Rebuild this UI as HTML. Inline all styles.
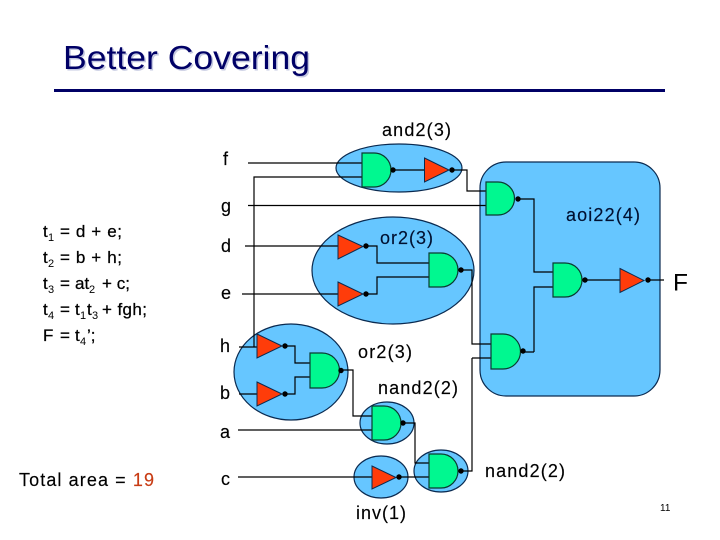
<!DOCTYPE html>
<html><head><meta charset="utf-8"><style>
html,body{margin:0;padding:0;background:#fff}
svg{display:block}
text{font-family:"Liberation Sans",sans-serif;fill:#000}
.l{font-size:18px;stroke:#000;stroke-width:.15}
.e{font-size:17px;stroke:#000;stroke-width:.25}
.s{font-size:11px}
.w{fill:none;stroke:#000;stroke-width:1.2}
.b{fill:#66c6ff;stroke:#0a2a50;stroke-width:1.2}
.g{fill:#00f890;stroke:#0a3a30;stroke-width:1.2}
.t{fill:#ff3c0a;stroke:#0a2a50;stroke-width:1}
.d{fill:#000}
</style></head><body>
<svg width="720" height="540" viewBox="0 0 720 540" xmlns="http://www.w3.org/2000/svg">
<rect width="720" height="540" fill="#fff"/>
<text x="64.500" y="70.500" font-size="33" style="fill:#c4c8e0" textLength="247" lengthAdjust="spacingAndGlyphs">Better Covering</text>
<text x="63" y="69" font-size="33" style="fill:#000066" textLength="247" lengthAdjust="spacingAndGlyphs">Better Covering</text>
<rect x="54" y="89" width="611" height="3" fill="#000066"/>

<rect class="b" x="480" y="162" width="180" height="234" rx="26" ry="26"/>
<ellipse class="b" cx="399" cy="168" rx="63" ry="24"/>
<ellipse class="b" cx="393" cy="270.500" rx="81" ry="53.500"/>
<ellipse class="b" cx="291" cy="372" rx="57" ry="48"/>
<ellipse class="b" cx="387" cy="423" rx="27" ry="21"/>
<ellipse class="b" cx="381" cy="477" rx="27" ry="21"/>
<ellipse class="b" cx="441" cy="471" rx="27" ry="21"/>

<g class="w">
<path d="M248 163H362M254 347V177H362M393 170H425M452 170H467V191H486"/>
<path d="M248 205.500H486M518 199H534V272H553M534 352V287H553M585 280H620M648 280H664"/>
<path d="M245 246H338M242 294H338M366 246H377V263H429M366 294H377V277H429"/>
<path d="M461 270H472V344H491M523 352H534M472 358H491M472 358V471H461"/>
<path d="M239 347H258M239 394H258M285 346H295V363H310M285 394H295V377H310"/>
<path d="M341 370H353V416H372M238 430H372M403 423H415V463H429M238 477H372M399 477H429"/>
</g>

<path class="g" d="M362 153H374A17 17 0 0 1 374 187H362Z"/>
<path class="g" d="M486 182H498A16.500 16.500 0 0 1 498 215H486Z"/>
<path class="g" d="M429 253H441A17 17 0 0 1 441 287H429Z"/>
<path class="g" d="M553 263H565A17 17 0 0 1 565 297H553Z"/>
<path class="g" d="M491 334H503A17.500 17.500 0 0 1 503 369H491Z"/>
<path class="g" d="M310 353H322A17.500 17.500 0 0 1 322 388H310Z"/>
<path class="g" d="M372 406H384A17 17 0 0 1 384 440H372Z"/>
<path class="g" d="M429 454H441A17 17 0 0 1 441 488H429Z"/>

<path class="t" d="M424.500 158L449 170L424.500 182Z"/>
<path class="t" d="M338 235L363 246.500L338 259Z"/>
<path class="t" d="M338 282L363 294L338 306Z"/>
<path class="t" d="M620 268.500L644 280.500L620 292.500Z"/>
<path class="t" d="M257 334L282 346L257 358Z"/>
<path class="t" d="M257 382L282 394L257 406Z"/>
<path class="t" d="M372 466L396 477.500L372 489Z"/>

<g class="d">
<circle cx="393" cy="170" r="2.700"/><circle cx="452" cy="170" r="2.700"/>
<circle cx="518" cy="199" r="2.700"/><circle cx="366" cy="246" r="2.700"/>
<circle cx="366" cy="294" r="2.700"/><circle cx="461" cy="270" r="2.700"/>
<circle cx="585" cy="280" r="2.700"/><circle cx="648" cy="280" r="2.700"/>
<circle cx="523" cy="351" r="2.700"/><circle cx="285" cy="346" r="2.700"/>
<circle cx="285" cy="394" r="2.700"/><circle cx="341" cy="370.500" r="2.700"/>
<circle cx="403" cy="423" r="2.700"/><circle cx="399" cy="477" r="2.700"/>
<circle cx="461" cy="471" r="2.700"/>
</g>

<text class="l" x="382" y="136" textLength="69">and2(3)</text>
<text class="l" x="223" y="165">f</text>
<text class="l" x="221" y="212">g</text>
<text class="l" x="221" y="252">d</text>
<text class="l" x="221" y="299">e</text>
<text class="l" x="220" y="352">h</text>
<text class="l" x="220" y="399">b</text>
<text class="l" x="220" y="438">a</text>
<text class="l" x="221" y="485">c</text>
<text class="l" x="380" y="244" textLength="53" style="fill:#001030;stroke:#001030">or2(3)</text>
<text class="l" x="566" y="221" textLength="74" style="fill:#001030;stroke:#001030">aoi22(4)</text>
<text x="673" y="290.500" font-size="24.500">F</text>
<text class="l" x="358" y="358" textLength="54">or2(3)</text>
<text class="l" x="378" y="394" textLength="80">nand2(2)</text>
<text class="l" x="485" y="477" textLength="80">nand2(2)</text>
<text class="l" x="356" y="519" textLength="50">inv(1)</text>
<text class="l" x="19" y="486" textLength="135"><tspan>Total area = </tspan><tspan style="fill:#c83c14;stroke:#c83c14">19</tspan></text>
<text x="660" y="511" font-size="10">11</text>

<text class="e" x="43" y="237">t</text><text class="s" x="48" y="241">1</text><text class="e" x="60" y="237" textLength="62">= d + e;</text>
<text class="e" x="43" y="263">t</text><text class="s" x="48" y="267">2</text><text class="e" x="60" y="263" textLength="62">= b + h;</text>
<text class="e" x="43" y="289">t</text><text class="s" x="48" y="293">3</text><text class="e" x="60" y="289">=</text><text class="e" x="75" y="289">at</text><text class="s" x="89" y="293">2</text><text class="e" x="102" y="289" textLength="28">+ c;</text>
<text class="e" x="43" y="315">t</text><text class="s" x="48" y="319">4</text><text class="e" x="60" y="315">=</text><text class="e" x="75" y="315">t</text><text class="s" x="80" y="319">1</text><text class="e" x="87" y="315">t</text><text class="s" x="92" y="319">3</text><text class="e" x="102" y="315" textLength="45">+ fgh;</text>
<text class="e" x="43" y="341">F</text><text class="e" x="60" y="341">=</text><text class="e" x="75" y="341">t</text><text class="s" x="80" y="345">4</text><text class="e" x="87" y="341">’;</text>
</svg>
</body></html>
